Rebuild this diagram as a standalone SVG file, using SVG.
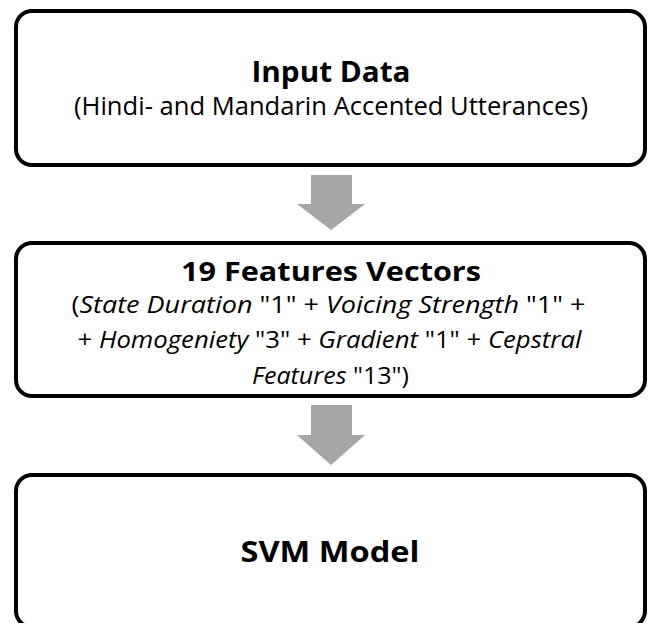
<svg xmlns="http://www.w3.org/2000/svg" width="649" height="623" viewBox="0 0 649 623">
  <style>
    .box { fill: #ffffff; stroke: #000000; stroke-width: 4; }
    .arrow { fill: #a6a6a6; stroke: none; }
    text { font-family: "Open Sans", "Noto Sans", "Liberation Sans", sans-serif; fill: #000000; text-anchor: middle; }
    .title { font-size: 29px; font-weight: bold; }
    .title2 { font-size: 27px; font-weight: bold; }
    .sub { font-size: 25px; }
    .sub2 { font-size: 24px; }
    .it { font-style: italic; }
  </style>
  <rect width="649" height="623" fill="#ffffff"/>
  <g id="connectors">
    <polygon class="arrow" points="311,175 352,175 352,204 365,204 331,230 297,204 311,204"/>
    <polygon class="arrow" points="311,405 352,405 352,435 365,435 331,465 297,435 311,435"/>
  </g>
  <g id="node-input">
    <rect class="box" x="16" y="11" width="629" height="154" rx="16" ry="16"/>
    <text class="title" x="331" y="82" textLength="159" lengthAdjust="spacingAndGlyphs">Input Data</text>
    <text class="sub" x="331" y="115" textLength="514" lengthAdjust="spacingAndGlyphs">(Hindi- and Mandarin Accented Utterances)</text>
  </g>
  <g id="node-features">
    <rect class="box" x="16" y="243" width="629" height="153" rx="16" ry="16"/>
    <text class="title2" x="331" y="281" textLength="300" lengthAdjust="spacingAndGlyphs">19 Features Vectors</text>
    <text class="sub2" x="328.5" y="313" textLength="514" lengthAdjust="spacingAndGlyphs">(<tspan class="it">State Duration</tspan> "1" + <tspan class="it">Voicing Strength</tspan> "1" +</text>
    <text class="sub2" x="329.5" y="348" textLength="504" lengthAdjust="spacingAndGlyphs">+ <tspan class="it">Homogeniety</tspan> "3" + <tspan class="it">Gradient</tspan> "1" + <tspan class="it">Cepstral</tspan></text>
    <text class="sub2" x="330.5" y="384" textLength="157" lengthAdjust="spacingAndGlyphs"><tspan class="it">Features</tspan> "13")</text>
  </g>
  <g id="node-svm">
    <rect class="box" x="16" y="475" width="629" height="152" rx="16" ry="16"/>
    <text class="title" x="330" y="562" textLength="179" lengthAdjust="spacingAndGlyphs">SVM Model</text>
  </g>
</svg>
